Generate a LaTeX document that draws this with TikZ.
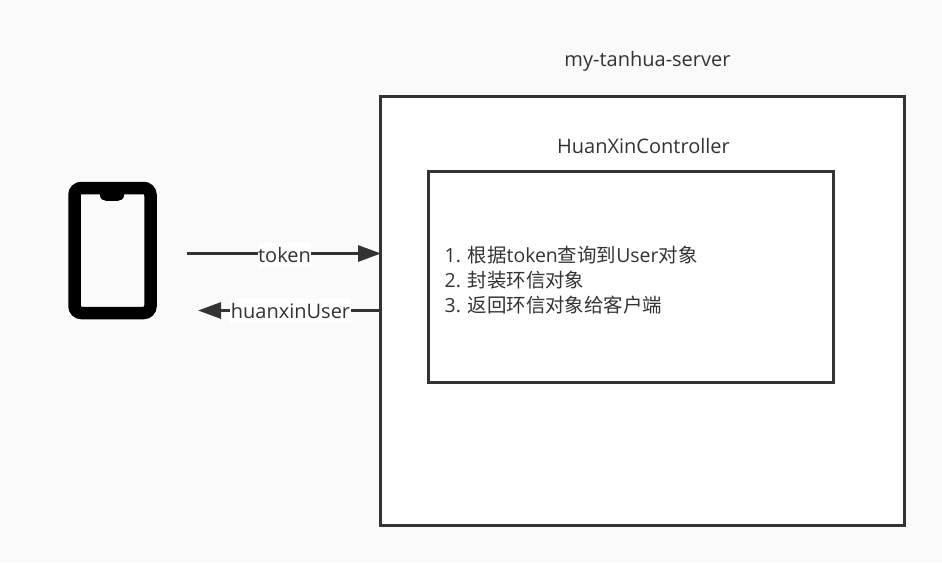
\documentclass[tikz,border=0pt]{standalone}
\usepackage{fontspec}
\setmainfont{Open Sans}
\newfontfamily\cjk{Noto Sans CJK SC}
\usetikzlibrary{arrows.meta}
\definecolor{ink}{HTML}{333333}
\definecolor{paper}{HTML}{FAFAFA}
\tikzset{x=1pt,y=-1pt,
 boxx/.style={draw=ink,line width=3pt,fill=white,rectangle,inner sep=0pt,outer sep=0pt,anchor=north west},
 lab/.style={text=ink,font=\fontsize{20pt}{24pt}\selectfont,inner sep=0pt},
 steplab/.style={text=ink,font=\fontsize{19.45pt}{25pt}\selectfont,inner sep=0pt},
 conn/.style={draw=ink,line width=3pt,-{Triangle[length=23pt,width=16pt]}},
 tag/.style={lab,fill=white,minimum height=24pt,inner xsep=0.5pt}}
\begin{document}
\begin{tikzpicture}
\useasboundingbox (0,0) rectangle (942,562);
\fill[paper] (0,0) rectangle (942,562);
\node[boxx,minimum width=523.5pt,minimum height=428.5pt] (outer) at (380.5,96.5) {};
\node[boxx,minimum width=405pt,minimum height=211pt] (inner) at (428.7,171) {};
\node[lab] (server) at (647.5,61) {my-tanhua-server};
\node[lab] (ctrl) at (643.5,146) {HuanXinController};
\node[steplab,align=left,anchor=west] (steps) at (444.5,280.5) {1. {\cjk 根据}token{\cjk 查询到}User{\cjk 对象}\\2. {\cjk 封装环信对象}\\3. {\cjk 返回环信对象给客户端}};
\draw[line width=12.5pt,rounded corners=7pt,black] (74.5,188) rectangle (150.5,313);
\fill[black] (100,190) -- (124,190) -- (124,195) .. controls (124,199) and (121,200.8) .. (118,200.8) -- (106,200.8) .. controls (103,200.8) and (100,199) .. (100,195) -- cycle;
\coordinate (c1) at (187,253.5);
\coordinate (c2) at (381,253.5);
\coordinate (c3) at (381,310.5);
\coordinate (c4) at (198,310.5);
\draw[conn] (c1) -- (c2);
\draw[conn] (c3) -- (c4);
\node[tag] (tk) at (284.5,254.5) {token};
\node[tag] (hx) at (290.5,311) {huanxinUser};
\end{tikzpicture}
\end{document}
